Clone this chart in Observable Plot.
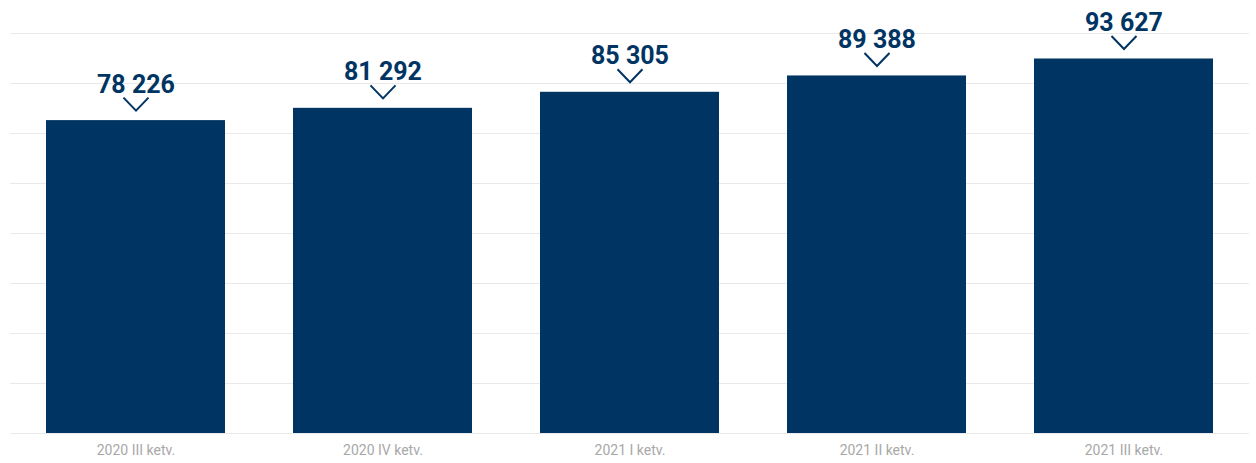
<!DOCTYPE html>
<html>
<head>
<meta charset="utf-8">
<script src="https://cdn.jsdelivr.net/npm/d3@7"></script>
<script src="https://cdn.jsdelivr.net/npm/@observablehq/plot@0.6"></script>
<style>
  html, body { margin: 0; padding: 0; background: #ffffff; }
  #chart { width: 1256px; height: 463px; }
</style>
</head>
<body>
<div id="chart"></div>
<script>
const categories = ["2020 III ketv.", "2020 IV ketv.", "2021 I ketv.", "2021 II ketv.", "2021 III ketv."];
const values = [78226, 81292, 85305, 89388, 93627];
const gridTicks = [0, 12500, 25000, 37500, 50000, 62500, 75000, 87500, 100000];

const data = categories.map((c, i) => ({category: c, value: values[i]}));
const fmt = d3.formatLocale({decimal: ",", thousands: " ", grouping: [3], currency: ["", ""]}).format(",d");

const chevron = {
  draw(context, size) {
    const w = Math.sqrt(size / Math.PI);
    const h = w * 0.52;
    context.moveTo(-w, -h);
    context.lineTo(0, h);
    context.lineTo(w, -h);
  }
};

const navy = "#003463";

const chart = Plot.plot({
  width: 1256,
  height: 463,
  marginTop: 33,
  marginBottom: 30,
  marginLeft: 10,
  marginRight: 7,
  style: {fontFamily: "Roboto, sans-serif", background: "#ffffff"},
  x: {domain: categories, paddingInner: 0.277, paddingOuter: 0.1385, axis: null},
  y: {domain: [0, 100000], axis: null},
  marks: [
    Plot.ruleY(gridTicks, {stroke: "#e9e9e9", strokeWidth: 1}),
    Plot.barY(data, {x: "category", y: "value", fill: navy}),
    Plot.dot(data, {x: "category", y: "value", symbol: chevron, r: 12.5, dy: -16.5, stroke: navy, strokeWidth: 2, fill: "none"}),
    Plot.text(data, {x: "category", y: "value", text: d => fmt(d.value), dy: -28, lineAnchor: "bottom", fill: navy, fontSize: 25, fontWeight: "bold"}),
    Plot.axisX({tickSize: 0, tickPadding: 12, fontSize: 14, fill: "#a8a8a8", label: null})
  ]
});
document.getElementById("chart").appendChild(chart);
</script>
</body>
</html>
